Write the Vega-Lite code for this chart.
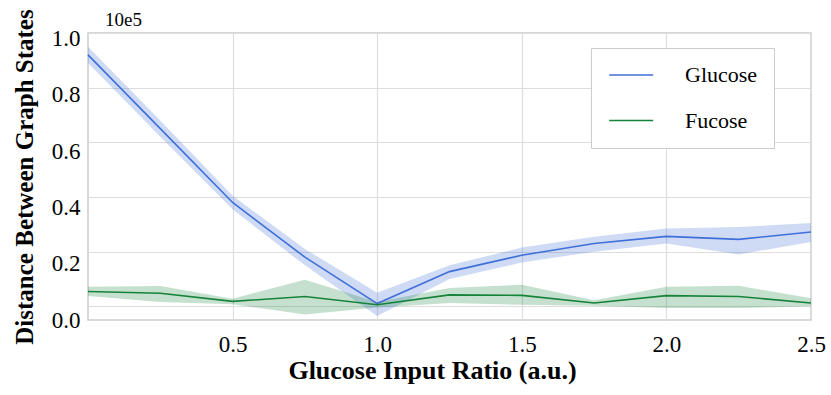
{
  "$schema": "https://vega.github.io/schema/vega-lite/v6.json",
  "autosize": {"type": "none"},
  "width": 723,
  "height": 287,
  "padding": {"left": 88, "top": 33, "right": 20, "bottom": 75},
  "background": "white",
  "title": {"text": "10e5", "anchor": "start", "frame": "group", "dx": 17, "offset": -21, "fontSize": 19, "font": "Liberation Serif", "fontWeight": "normal", "color": "black"},
  "config": {
    "font": "Liberation Serif",
    "view": {"stroke": "#cccccc", "strokeWidth": 1.5},
    "axis": {"labelFont": "Liberation Serif", "titleFont": "Liberation Serif", "labelColor": "black", "titleColor": "black", "gridColor": "#dddddd", "gridWidth": 1.2, "domain": false, "ticks": false},
    "legend": {"labelFont": "Liberation Serif"}
  },
  "data": {"values": [
    {"x": 0, "series": "Glucose", "y": 0.92, "lo": 0.89, "hi": 0.95},
    {"x": 0.25, "series": "Glucose", "y": 0.65, "lo": 0.62, "hi": 0.68},
    {"x": 0.5, "series": "Glucose", "y": 0.38, "lo": 0.355, "hi": 0.405},
    {"x": 0.75, "series": "Glucose", "y": 0.18, "lo": 0.15, "hi": 0.21},
    {"x": 1.0, "series": "Glucose", "y": 0.01, "lo": -0.035, "hi": 0.05},
    {"x": 1.25, "series": "Glucose", "y": 0.127, "lo": 0.1, "hi": 0.15},
    {"x": 1.5, "series": "Glucose", "y": 0.187, "lo": 0.16, "hi": 0.215},
    {"x": 1.75, "series": "Glucose", "y": 0.23, "lo": 0.2, "hi": 0.255},
    {"x": 2.0, "series": "Glucose", "y": 0.256, "lo": 0.23, "hi": 0.285},
    {"x": 2.25, "series": "Glucose", "y": 0.245, "lo": 0.19, "hi": 0.29},
    {"x": 2.5, "series": "Glucose", "y": 0.272, "lo": 0.235, "hi": 0.305},
    {"x": 0, "series": "Fucose", "y": 0.054, "lo": 0.038, "hi": 0.072},
    {"x": 0.25, "series": "Fucose", "y": 0.048, "lo": 0.016, "hi": 0.074},
    {"x": 0.5, "series": "Fucose", "y": 0.018, "lo": 0.008, "hi": 0.028},
    {"x": 0.75, "series": "Fucose", "y": 0.036, "lo": -0.03, "hi": 0.097},
    {"x": 1.0, "series": "Fucose", "y": 0.006, "lo": -0.004, "hi": 0.016},
    {"x": 1.25, "series": "Fucose", "y": 0.042, "lo": 0.012, "hi": 0.067},
    {"x": 1.5, "series": "Fucose", "y": 0.04, "lo": 0.006, "hi": 0.079},
    {"x": 1.75, "series": "Fucose", "y": 0.012, "lo": 0.002, "hi": 0.022},
    {"x": 2.0, "series": "Fucose", "y": 0.039, "lo": -0.006, "hi": 0.072},
    {"x": 2.25, "series": "Fucose", "y": 0.036, "lo": -0.006, "hi": 0.075},
    {"x": 2.5, "series": "Fucose", "y": 0.012, "lo": 0.0, "hi": 0.03}
  ]},
  "encoding": {
    "x": {"field": "x", "type": "quantitative", "scale": {"domain": [0, 2.5], "nice": false, "zero": false},
      "axis": {"title": "Glucose Input Ratio (a.u.)", "values": [0.5, 1.0, 1.5, 2.0, 2.5], "format": ".1f", "labelFont": "Liberation Serif", "labelFontSize": 23, "labelPadding": 13, "titleFont": "Liberation Serif", "titleFontSize": 26, "titleFontWeight": "bold", "titlePadding": 1, "titleX": 344, "labelFlush": false}},
    "color": {"field": "series", "type": "nominal", "scale": {"domain": ["Glucose", "Fucose"], "range": ["#3f6fd8", "#17823a"]},
      "legend": {"title": null, "orient": "none", "legendX": 503, "legendY": 15, "symbolType": "M-1.2,0H4.8", "symbolSize": 215, "symbolStrokeWidth": 1.6, "symbolOpacity": 1, "symbolFillColor": "transparent", "labelFont": "Liberation Serif", "labelFontSize": 22, "labelColor": "black", "labelOffset": 56, "labelExpr": "datum.label + '\u2003\u2003'", "padding": 16, "rowPadding": 23.5, "strokeColor": "#cccccc", "fillColor": "white", "cornerRadius": 0}}
  },
  "layer": [
    {"mark": {"type": "area", "opacity": 0.25},
     "encoding": {
       "y": {"field": "lo", "type": "quantitative", "scale": {"domain": [-0.05, 1.0], "nice": false, "zero": false},
         "axis": {"title": "Distance Between Graph States", "values": [0, 0.2, 0.4, 0.6, 0.8, 1.0], "format": ".1f", "labelFont": "Liberation Serif", "labelFontSize": 23, "labelPadding": 8, "titleFont": "Liberation Serif", "titleFontSize": 25, "titleFontWeight": "bold", "titlePadding": 14,
           "labelOffset": {"condition": [{"test": "datum.value < 0.1", "value": 14}, {"test": "datum.value < 0.3", "value": 12}, {"test": "datum.value < 0.5", "value": 10}, {"test": "datum.value < 0.7", "value": 9}, {"test": "datum.value < 0.9", "value": 7}], "value": 5}}},
       "y2": {"field": "hi"}
     }},
    {"mark": {"type": "line", "strokeWidth": 1.6},
     "encoding": {
       "y": {"field": "y", "type": "quantitative"}
     }}
  ]
}
